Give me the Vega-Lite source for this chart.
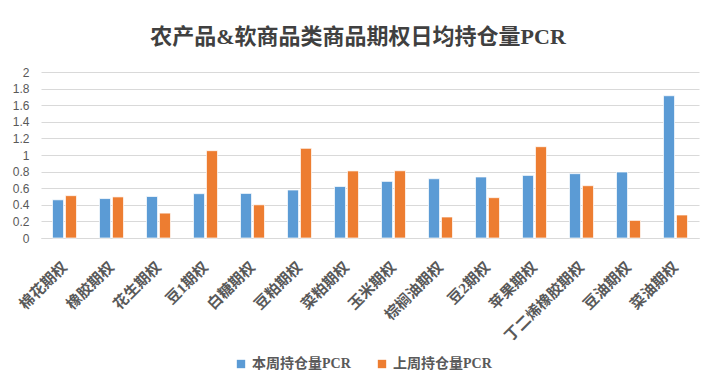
{
  "$schema": "https://vega.github.io/schema/vega-lite/v6.json",
  "autosize": "none",
  "width": 658,
  "height": 166,
  "padding": {"left": 41, "top": 72, "right": 20, "bottom": 150},
  "background": "white",
  "title": {
    "text": "农产品&软商品类商品期权日均持仓量PCR",
    "font": "Liberation Serif, Noto Sans CJK SC",
    "fontSize": 22,
    "fontWeight": "bold",
    "color": "#404040",
    "anchor": "middle",
    "offset": 17,
    "dx": -12
  },
  "data": {
    "values": [
      {"c": "棉花期权", "s": "本周持仓量PCR", "v": 0.46},
      {"c": "棉花期权", "s": "上周持仓量PCR", "v": 0.51},
      {"c": "橡胶期权", "s": "本周持仓量PCR", "v": 0.475},
      {"c": "橡胶期权", "s": "上周持仓量PCR", "v": 0.495},
      {"c": "花生期权", "s": "本周持仓量PCR", "v": 0.5},
      {"c": "花生期权", "s": "上周持仓量PCR", "v": 0.3},
      {"c": "豆1期权", "s": "本周持仓量PCR", "v": 0.534},
      {"c": "豆1期权", "s": "上周持仓量PCR", "v": 1.052},
      {"c": "白糖期权", "s": "本周持仓量PCR", "v": 0.537},
      {"c": "白糖期权", "s": "上周持仓量PCR", "v": 0.4},
      {"c": "豆粕期权", "s": "本周持仓量PCR", "v": 0.578},
      {"c": "豆粕期权", "s": "上周持仓量PCR", "v": 1.08},
      {"c": "菜粕期权", "s": "本周持仓量PCR", "v": 0.62},
      {"c": "菜粕期权", "s": "上周持仓量PCR", "v": 0.808},
      {"c": "玉米期权", "s": "本周持仓量PCR", "v": 0.682},
      {"c": "玉米期权", "s": "上周持仓量PCR", "v": 0.81},
      {"c": "棕榈油期权", "s": "本周持仓量PCR", "v": 0.714},
      {"c": "棕榈油期权", "s": "上周持仓量PCR", "v": 0.253},
      {"c": "豆2期权", "s": "本周持仓量PCR", "v": 0.735},
      {"c": "豆2期权", "s": "上周持仓量PCR", "v": 0.486},
      {"c": "苹果期权", "s": "本周持仓量PCR", "v": 0.754},
      {"c": "苹果期权", "s": "上周持仓量PCR", "v": 1.1},
      {"c": "丁二烯橡胶期权", "s": "本周持仓量PCR", "v": 0.775},
      {"c": "丁二烯橡胶期权", "s": "上周持仓量PCR", "v": 0.63},
      {"c": "豆油期权", "s": "本周持仓量PCR", "v": 0.795},
      {"c": "豆油期权", "s": "上周持仓量PCR", "v": 0.212},
      {"c": "菜油期权", "s": "本周持仓量PCR", "v": 1.714},
      {"c": "菜油期权", "s": "上周持仓量PCR", "v": 0.277}
    ]
  },
  "mark": {"type": "bar", "stroke": "white", "strokeWidth": 0.7},
  "encoding": {
    "x": {
      "field": "c",
      "type": "nominal",
      "sort": null,
      "scale": {"paddingInner": 0.49, "paddingOuter": 0.245},
      "axis": {
        "title": null,
        "labelAngle": -45,
        "labelAlign": "right",
        "labelBaseline": "middle",
        "labelFont": "Liberation Serif, Noto Sans CJK SC",
        "labelFontSize": 15,
        "labelFontWeight": "bold",
        "labelColor": "#595959",
        "labelPadding": 26,
        "ticks": false,
        "domainColor": "#D9D9D9",
        "domainWidth": 1
      }
    },
    "xOffset": {
      "field": "s",
      "type": "nominal",
      "sort": ["本周持仓量PCR", "上周持仓量PCR"],
      "scale": {"paddingInner": 0.15}
    },
    "y": {
      "field": "v",
      "type": "quantitative",
      "scale": {"domain": [0, 2], "nice": false},
      "axis": {
        "title": null,
        "values": [0, 0.2, 0.4, 0.6, 0.8, 1, 1.2, 1.4, 1.6, 1.8, 2],
        "format": "~g",
        "domain": false,
        "ticks": false,
        "labelFont": "Liberation Sans",
        "labelFontSize": 12,
        "labelColor": "#595959",
        "labelPadding": 12,
        "gridColor": "#D9D9D9",
        "gridWidth": 1
      }
    },
    "color": {
      "field": "s",
      "type": "nominal",
      "sort": ["本周持仓量PCR", "上周持仓量PCR"],
      "scale": {"range": ["#5B9BD5", "#ED7D31"]},
      "legend": {
        "title": null,
        "orient": "none",
        "direction": "horizontal",
        "legendX": 193,
        "legendY": 285,
        "symbolType": "square",
        "symbolSize": 70,
        "symbolStrokeWidth": 0,
        "labelFont": "Liberation Serif, Noto Sans CJK SC",
        "labelFontSize": 14,
        "labelFontWeight": "bold",
        "labelColor": "#595959",
        "columnPadding": 24
      }
    }
  },
  "config": {"view": {"stroke": null}}
}
